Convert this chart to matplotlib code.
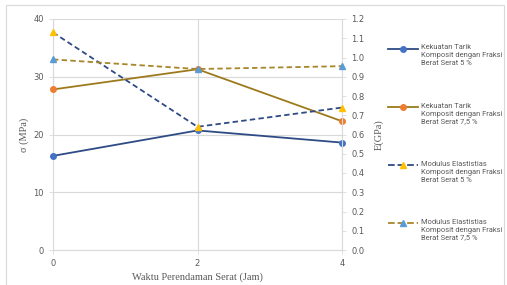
import matplotlib.pyplot as plt
from matplotlib.patches import Rectangle
from matplotlib.lines import Line2D

# data
waktu = [0, 2, 4]
tarik_5 = [16.3, 20.7, 18.6]      # MPa
tarik_75 = [27.8, 31.3, 22.3]     # MPa
modulus_5 = [1.13, 0.64, 0.74]    # GPa
modulus_75 = [0.99, 0.94, 0.955]  # GPa

labels = [
    'Kekuatan Tarik\nKomposit dengan Fraksi\nBerat Serat 5 %',
    'Kekuatan Tarik\nKomposit dengan Fraksi\nBerat Serat 7,5 %',
    'Modulus Elastistias\nKomposit dengan Fraksi\nBerat Serat 5 %',
    'Modulus Elastistias\nKomposit dengan Fraksi\nBerat Serat 7,5 %',
]

grid_c = '#d9d9d9'
tick_c = '#595959'

fig = plt.figure(figsize=(5.07, 2.85), dpi=100)
fig.patches.append(Rectangle((6 / 507, -0.01), 498 / 507, 1 - 5 / 285 + 0.01,
                             transform=fig.transFigure, fill=False,
                             edgecolor='#d9d9d9', linewidth=0.8))

ax = fig.add_axes([53 / 507, 35 / 285, 289 / 507, 231 / 285])
ax2 = ax.twinx()

ax.set_xlim(0, 4)
ax.set_ylim(0, 40)
ax2.set_ylim(0, 1.2)
ax.set_xticks([0, 2, 4])
ax.set_yticks(range(0, 41, 10))
ax2.set_yticks([i / 10 for i in range(13)])
ax2.set_yticklabels([f'{i / 10:.1f}' for i in range(13)])

ax.grid(True, color=grid_c, linewidth=0.8)
ax.set_axisbelow(True)

l1, = ax.plot(waktu, tarik_5, color='#2f4b85', lw=1.3, marker='o', ms=4,
              mfc='#4472c4', mec='#4472c4', clip_on=False, zorder=3)
l2, = ax.plot(waktu, tarik_75, color='#9c7a1c', lw=1.3, marker='o', ms=4,
              mfc='#ed7d31', mec='#ed7d31', clip_on=False, zorder=3)
l3, = ax2.plot(waktu, modulus_5, color='#2f4b85', lw=1.3, ls=(0, (3, 1.8)),
               marker='^', ms=4.5, mfc='#ffc000', mec='#ffc000', clip_on=False, zorder=3)
l4, = ax2.plot(waktu, modulus_75, color='#a8862a', lw=1.3, ls=(0, (3, 1.8)),
               marker='^', ms=4.5, mfc='#5b9bd5', mec='#5b9bd5', clip_on=False, zorder=3)

for a in (ax, ax2):
    a.spines['top'].set_visible(False)
    for s in ('left', 'right', 'bottom'):
        a.spines[s].set_color(grid_c)
    a.tick_params(labelsize=6, colors=tick_c, length=3, width=0.6)
    a.tick_params(axis='both', color=grid_c)
ax.spines['right'].set_visible(False)
ax2.spines['left'].set_visible(False)
ax2.spines['bottom'].set_visible(False)

ax.set_xlabel('Waktu Perendaman Serat (Jam)', family='Liberation Serif',
              fontsize=7.5, color=tick_c, labelpad=3)
ax.set_ylabel('σ (MPa)', family='Liberation Serif', fontsize=7.5,
              color=tick_c, labelpad=3)
ax2.set_ylabel('E(GPa)', family='Liberation Serif', fontsize=7.5,
               color=tick_c, labelpad=7)

# legend built by hand so the handle sits on the first text line
for i, (src, lab) in enumerate(zip([l1, l2, l3, l4], labels)):
    y = 1 - (49 + 58 * i) / 285
    h = Line2D([388 / 507, 403 / 507, 418 / 507], [y, y, y],
               transform=fig.transFigure, color=src.get_color(),
               lw=src.get_linewidth(), ls=src.get_linestyle(),
               marker=src.get_marker(), markevery=[1], ms=src.get_markersize(),
               mfc=src.get_markerfacecolor(), mec=src.get_markeredgecolor())
    fig.add_artist(h)
    fig.text(421 / 507, y + 4.5 / 285, lab, fontsize=5.4, family='Roboto',
             color=tick_c, va='top', ha='left', linespacing=1.2)

fig.savefig('out.png', dpi=100)
